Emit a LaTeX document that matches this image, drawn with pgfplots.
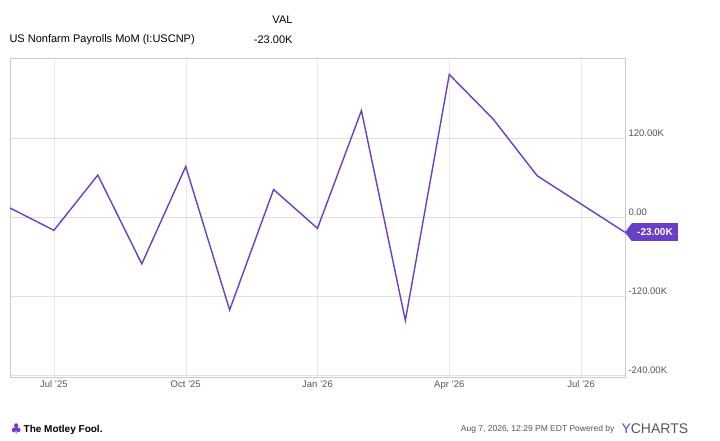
\documentclass[border=0pt]{standalone}
\usepackage{pgfplots}
\pgfplotsset{compat=1.18}
\usepackage{fontspec}
\setmainfont{Liberation Sans}
\definecolor{ln}{HTML}{6A3FC8}
\definecolor{tk}{HTML}{555555}
\begin{document}
\begin{tikzpicture}[x=1pt,y=1pt]
\path (0,0) rectangle (720,441);
\begin{scope}[overlay]
\begin{axis}[at={(10pt,64pt)},anchor=south west,scale only axis,width=615pt,height=319pt,
 xmin=0,xmax=14,ymin=-243,ymax=242,
 xtick={1,4,7,10,13},xticklabels={Jul '25,Oct '25,Jan '26,Apr '26,Jul '26},
 ytick={-240,-120,0,120},yticklabels={-240.00K,-120.00K,0.00,120.00K},
 yticklabel pos=right,
 /pgf/number format/assume math mode=true,
 tick label style={font=\fontsize{9.5}{11}\selectfont,text=tk},
 yticklabel style={anchor=south west,yshift=-2pt},
 xmajorgrids,ymajorgrids,
 x grid style={gray!18},y grid style={gray!25,line width=1pt},
 axis line style={draw=gray!40},
 major tick length=0pt,
 clip=false]
\addplot[ln,line width=1.4pt] coordinates {(0,14)(1,-20)(2,64)(3,-71)(4,77)(5,-141)(6,42)(7,-17)(8,162)(9,-157)(10,217)(11,149)(12,63)(13,20)(14,-23)};
\node[fill=ln,text=white,anchor=west,font=\fontsize{10}{12}\selectfont\bfseries,inner xsep=5pt,inner ysep=3pt,minimum height=18pt] (lab) at (axis cs:14,-23) [xshift=7pt] {-23.00K};
\end{axis}
\fill[ln] (lab.north west) -- (lab.south west) -- ([xshift=-7pt]lab.west) -- cycle;
\end{scope}
\node[anchor=west,font=\fontsize{11}{13}\selectfont] at (6,401) {US Nonfarm Payrolls MoM (I:USCNP)};
\node[anchor=east,font=\fontsize{11}{13}\selectfont] at (296,421) {VAL};
\node[anchor=east,font=\fontsize{11}{13}\selectfont] at (296,401) {-23.00K};
\node[anchor=west,font=\fontsize{10}{12}\selectfont\bfseries] at (8,12) {\textcolor{ln}{\large$\clubsuit$} The Motley Fool.};
\node[anchor=east,font=\fontsize{8.5}{10}\selectfont,text=tk] at (618,12) {Aug 7, 2026, 12:29 PM EDT Powered by};
\node[anchor=west,font=\fontsize{14}{16}\selectfont,text=tk] at (618,12) {\textcolor{ln}{Y}CHARTS};
\end{tikzpicture}
\end{document}
